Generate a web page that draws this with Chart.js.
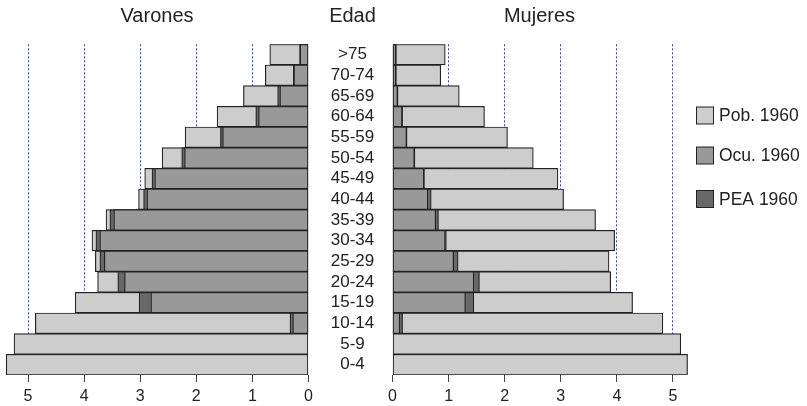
<!DOCTYPE html>
<html>
<head>
<meta charset="utf-8">
<script src="https://cdn.jsdelivr.net/npm/chart.js@4/dist/chart.umd.min.js"></script>
<style>
  html, body { margin: 0; background: #fff; }
  #wrap { position: relative; width: 807px; height: 406px; }
  #wrap canvas { position: absolute; left: 0; top: 0; }
</style>
</head>
<body>
<div id="wrap">
  <canvas id="men" width="807" height="406"></canvas>
  <canvas id="women" width="807" height="406"></canvas>
</div>
<script>
// age groups, top to bottom
const ageGroups = [">75", "70-74", "65-69", "60-64", "55-59", "50-54", "45-49", "40-44",
  "35-39", "30-34", "25-29", "20-24", "15-19", "10-14", "5-9", "0-4"];

// Varones
const menPob = [0.69, 0.77, 1.16, 1.63, 2.20, 2.61, 2.92, 3.03, 3.61, 3.86, 3.80, 3.76, 4.16, 4.87, 5.25, 5.39];
const menPea = [0.16, 0.27, 0.55, 0.94, 1.57, 2.26, 2.79, 2.94, 3.54, 3.79, 3.72, 3.40, 3.02, 0.33, 0, 0];
const menOcu = [0.15, 0.26, 0.51, 0.89, 1.53, 2.21, 2.74, 2.88, 3.47, 3.72, 3.64, 3.28, 2.81, 0.28, 0, 0];

// Mujeres
const womenPob = [0.94, 0.86, 1.19, 1.64, 2.05, 2.51, 2.95, 3.05, 3.62, 3.96, 3.86, 3.89, 4.28, 4.82, 5.14, 5.26];
const womenPea = [0.07, 0.07, 0.10, 0.18, 0.26, 0.40, 0.57, 0.69, 0.82, 0.96, 1.17, 1.55, 1.45, 0.18, 0, 0];
const womenOcu = [0.06, 0.06, 0.09, 0.17, 0.25, 0.39, 0.56, 0.63, 0.77, 0.94, 1.09, 1.45, 1.30, 0.13, 0, 0];

const seriesNames = ["Pob. 1960", "Ocu. 1960", "PEA 1960"];

const FONT = '"Liberation Sans", Arial, Helvetica, sans-serif';
const INK = "#222";
const COL = { pob: "#cdcdcd", ocu: "#999999", pea: "#686868", edge: "#222", grid: "#3c3caa" };

function makeDatasets(pob, pea, ocu) {
  const base = {
    grouped: false, barPercentage: 1, categoryPercentage: 1,
    borderWidth: 1.2, borderColor: COL.edge, borderSkipped: false
  };
  // first dataset is painted last (on top)
  return [
    { ...base, label: seriesNames[1], data: ocu, backgroundColor: COL.ocu },
    { ...base, label: seriesNames[2], data: pea, backgroundColor: COL.pea },
    { ...base, label: seriesNames[0], data: pob, backgroundColor: COL.pob }
  ];
}

function xAxis(max, reverse) {
  return {
    type: "linear", min: 0, max, reverse,
    ticks: { stepSize: 1, includeBounds: false, color: INK, font: { family: FONT, size: 16 }, padding: 5 },
    grid: {
      color: (c) => (c.tick && c.tick.value === 0 ? "rgba(0,0,0,0)" : COL.grid),
      tickColor: "#444", tickLength: 7, tickBorderDash: []
    },
    border: { display: false, dash: [2, 2] },
    afterFit: (s) => { s.height = 31; }
  };
}

function baseOptions(max, reverse, padding) {
  return {
    indexAxis: "y",
    responsive: false,
    animation: false,
    layout: { padding },
    plugins: { legend: { display: false }, tooltip: { enabled: false } },
    scales: {
      x: xAxis(max, reverse),
      y: { type: "category", display: false, grid: { display: false } }
    }
  };
}

const overlay = {
  id: "overlay",
  afterDraw(chart) {
    const ctx = chart.ctx;
    const y = chart.scales.y;
    ctx.save();
    ctx.fillStyle = INK;
    ctx.textAlign = "center";
    ctx.textBaseline = "middle";

    ctx.font = `20px ${FONT}`;
    ctx.fillText("Varones", 157, 16);
    ctx.fillText("Edad", 352.5, 16);
    ctx.fillText("Mujeres", 539.5, 16);

    ctx.font = `17px ${FONT}`;
    ageGroups.forEach((g, i) => ctx.fillText(g, 352.5, y.getPixelForValue(i)));

    // legend
    const items = [
      { name: seriesNames[0], color: COL.pob, cy: 115.5 },
      { name: seriesNames[1], color: COL.ocu, cy: 155.5 },
      { name: seriesNames[2], color: COL.pea, cy: 199 }
    ];
    ctx.textAlign = "left";
    ctx.font = `17.5px ${FONT}`;
    items.forEach((it) => {
      ctx.fillStyle = it.color;
      ctx.fillRect(696.5, it.cy - 8.5, 17, 17);
      ctx.strokeStyle = COL.edge;
      ctx.lineWidth = 1;
      ctx.strokeRect(696.5, it.cy - 8.5, 17, 17);
      ctx.fillStyle = INK;
      ctx.fillText(it.name, 719, it.cy + 1);
    });
    ctx.restore();
  }
};

new Chart(document.getElementById("men"), {
  type: "bar",
  data: { labels: ageGroups, datasets: makeDatasets(menPob, menPea, menOcu) },
  options: baseOptions(5.5, true, { left: 0, right: 498.5, top: 44.3, bottom: 0 })
});

new Chart(document.getElementById("women"), {
  type: "bar",
  data: { labels: ageGroups, datasets: makeDatasets(womenPob, womenPea, womenOcu) },
  options: baseOptions(5.3, false, { left: 392.5, right: 117.2, top: 44.3, bottom: 0 }),
  plugins: [overlay]
});
</script>
</body>
</html>
